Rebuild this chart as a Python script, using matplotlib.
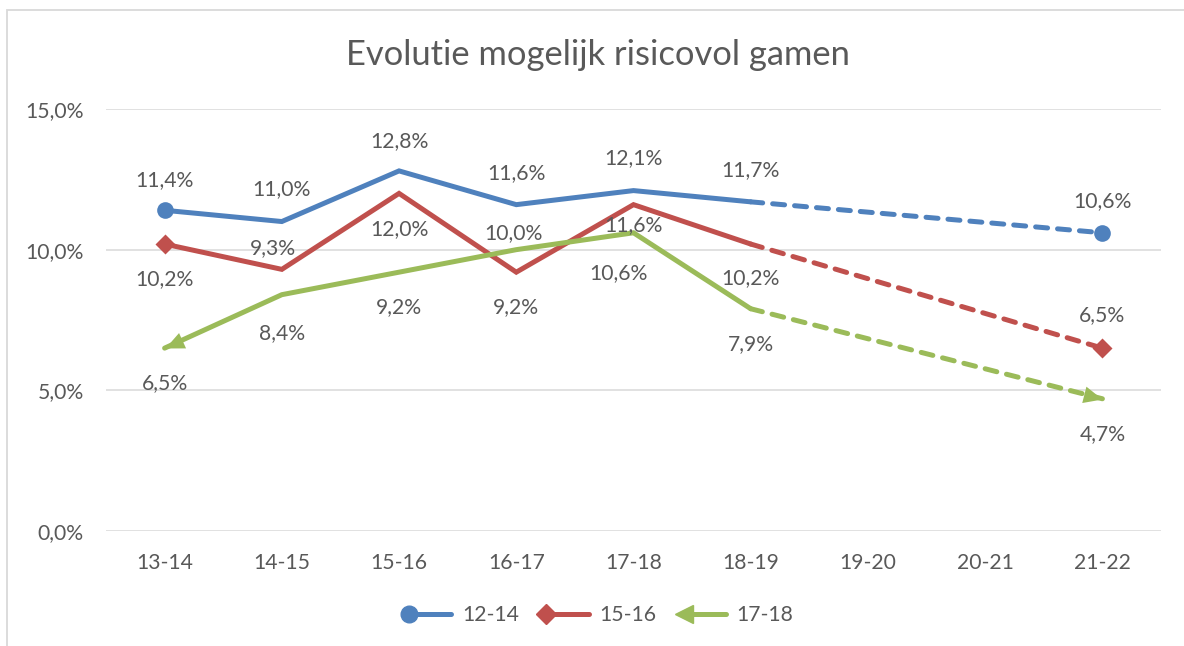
import numpy as np
import matplotlib
matplotlib.use("Agg")
from matplotlib import pyplot as plt
from matplotlib.lines import Line2D
from matplotlib.markers import MarkerStyle
from matplotlib.path import Path
from matplotlib.patches import Rectangle
from matplotlib.transforms import Affine2D
from matplotlib.legend_handler import HandlerLine2D

plt.rcParams['font.family'] = ['Lato', 'DejaVu Sans']

seasons = ['13-14', '14-15', '15-16', '16-17', '17-18', '18-19', '19-20', '20-21', '21-22']
nan = np.nan
age_12_14 = [11.4, 11.0, 12.8, 11.6, 12.1, 11.7, nan, nan, 10.6]
age_15_16 = [10.2, 9.3, 12.0, 9.2, 11.6, 10.2, nan, nan, 6.5]
age_17_18 = [6.5, 8.4, 9.2, 10.0, 10.6, 7.9, nan, nan, 4.7]
series_names = ['12-14', '15-16', '17-18']

# label offsets in pixels (dx, dy), positive dy = above the point
offs_12_14 = [(0, 30), (0, 32), (0, 30), (0, 32), (0, 32), (0, 32), None, None, (0, 32)]
offs_15_16 = [(0, -35), (-9, 21), (0, -36), (0, -35), (0, -20), (0, -34), None, None, (0, 33)]
offs_17_18 = [(0, -35), (0, -38), (0, -35), (-3, 17), (-15, -40), (0, -35), None, None, (0, -35)]

blue = '#4F81BD'
red = '#C0504D'
green = '#9BBB59'
text_col = '#595959'
grid_col = '#D9D9D9'
LW = 3.6
FS = 15.2

fig = plt.figure(figsize=(11.84, 6.46), dpi=100)
ax = fig.add_axes([106 / 1184, 1 - 531 / 646, (1161 - 106) / 1184, (531 - 109) / 646])
ax.set_xlim(-0.5, len(seasons) - 0.5)
ax.set_ylim(0, 15)

# chart border
fig.patches.append(Rectangle((7 / 1184, -0.1), 1.2, 1.1 - 10 / 646, transform=fig.transFigure,
                             fill=False, ec=grid_col, lw=1.3))

ax.set_yticks([0, 5, 10, 15])
ax.set_yticklabels([f"{v:.1f}".replace('.', ',') + '%' for v in [0, 5, 10, 15]])
ax.set_xticks(range(len(seasons)))
ax.set_xticklabels(seasons)
ax.tick_params(length=0, labelsize=FS, labelcolor=text_col)
ax.tick_params(axis='y', pad=16)
ax.tick_params(axis='x', pad=16)
for s in ax.spines.values():
    s.set_visible(False)
ax.grid(axis='y', color=grid_col, lw=1.1)
ax.set_axisbelow(True)

fig.text(598 / 1184, 1 - 55 / 646, 'Evolutie mogelijk risicovol gamen', ha='center', va='center',
         fontsize=24.8, color=text_col)


def arrow_marker(ax, p_from, p_to):
    # triangular head with its tip at the origin, turned along the segment
    a = ax.transData.transform(p_from)
    b = ax.transData.transform(p_to)
    ang = np.degrees(np.arctan2(b[1] - a[1], b[0] - a[0]))
    verts = [(0, 0), (-1, 0.45), (-1, -0.45), (0, 0)]
    path = Path(verts, [Path.MOVETO, Path.LINETO, Path.LINETO, Path.CLOSEPOLY])
    return MarkerStyle(path, transform=Affine2D().rotate_deg(ang))


def draw_series(vals, offs, color, marker, ms):
    x = np.arange(len(vals))
    y = np.array(vals, dtype=float)
    known = ~np.isnan(y)
    idx = x[known]
    solid = idx[idx <= 5]
    ax.plot(solid, y[solid], color=color, lw=LW, solid_joinstyle='miter', solid_capstyle='round', zorder=3)
    last = [idx[idx <= 5][-1], idx[-1]]
    ax.plot(last, y[last], color=color, lw=LW, linestyle=(0, (2.4, 2.0)), dash_capstyle='round', zorder=3)
    if marker == 'arrow':
        first, second = idx[0], idx[1]
        m0 = arrow_marker(ax, (second, y[second]), (first, y[first]))
        ax.plot([first], [y[first]], marker=m0, ms=27, color=color, mec='none', zorder=4)
        m1 = arrow_marker(ax, (last[0], y[last[0]]), (last[1], y[last[1]]))
        ax.plot([last[1]], [y[last[1]]], marker=m1, ms=27, color=color, mec='none', zorder=4)
    else:
        ends = [idx[0], idx[-1]]
        ax.plot(ends, y[ends], linestyle='none', marker=marker, ms=ms, color=color, mec='none', zorder=4)
    for i in idx:
        dx, dy = offs[i]
        ax.annotate(f"{y[i]:.1f}".replace('.', ',') + '%', (i, y[i]), xytext=(dx, dy),
                    textcoords='offset pixels', ha='center', va='center', fontsize=FS,
                    color=text_col, zorder=5)


draw_series(age_12_14, offs_12_14, blue, 'o', 12)
draw_series(age_15_16, offs_15_16, red, 'D', 10.5)
draw_series(age_17_18, offs_17_18, green, 'arrow', 0)


class LeftMarker(HandlerLine2D):
    # marker only on the left end of the legend line
    def create_artists(self, legend, orig_handle, xdescent, ydescent, width, height, fontsize, trans):
        artists = super().create_artists(legend, orig_handle, xdescent, ydescent, width, height,
                                         fontsize, trans)
        for a in artists:
            if a.get_marker() not in (None, 'None', 'none', ''):
                a.set_markevery([0])
        return artists


handles = [
    Line2D([], [], color=blue, lw=LW, marker='o', ms=12, solid_capstyle='round'),
    Line2D([], [], color=red, lw=LW, marker='D', ms=10.5, solid_capstyle='round'),
    Line2D([], [], color=green, lw=LW, marker='<', ms=13, solid_capstyle='round'),
]
fig.legend(handles, series_names, loc='center', bbox_to_anchor=(598 / 1184, 1 - 615 / 646), ncol=3,
           frameon=False, numpoints=2, handlelength=2.6, handletextpad=0.2, columnspacing=1.0,
           fontsize=FS, labelcolor=text_col, handler_map={Line2D: LeftMarker()})

fig.savefig('out.png', dpi=100)
